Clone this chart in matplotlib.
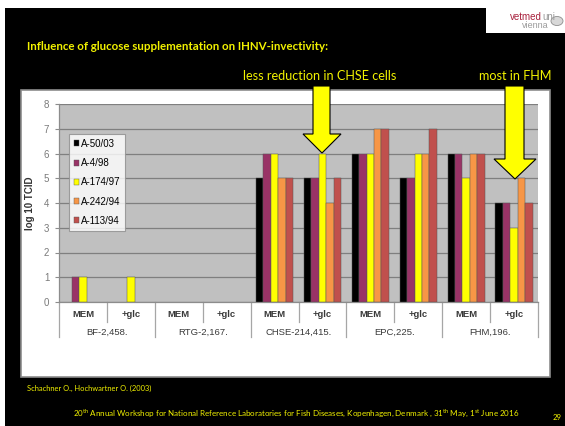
import matplotlib
matplotlib.use("Agg")
import matplotlib.pyplot as plt
import numpy as np
from matplotlib.patches import Rectangle, Polygon, Patch, Circle

W, H = 565, 426
YELLOW = "#F2F200"
GRID = "#7F7F7F"

strains = ["A-50/03", "A-4/98", "A-174/97", "A-242/94", "A-113/94"]
colors = ["#000000", "#993366", "#FFFF00", "#F79646", "#C0504D"]
media = ["MEM", "+glc"] * 5
cell_lines = ["BF-2,458.", "RTG-2,167.", "CHSE-214,415.", "EPC,225.", "FHM,196."]

# log10 TCID per strain, one value per (cell line, medium)
a50_03 = [0, 0, 0, 0, 5, 5, 6, 5, 6, 4]
a4_98 = [1, 0, 0, 0, 6, 5, 6, 5, 6, 4]
a174_97 = [1, 1, 0, 0, 6, 6, 6, 6, 5, 3]
a242_94 = [0, 0, 0, 0, 5, 4, 7, 6, 6, 5]
a113_94 = [0, 0, 0, 0, 5, 5, 7, 7, 6, 4]
series = [a50_03, a4_98, a174_97, a242_94, a113_94]


def fx(x):
    return x / W


def fy(y):
    return 1 - y / H


def px_poly(pts, **kw):
    return Polygon([(fx(x), fy(y)) for x, y in pts], closed=True,
                   transform=fig.transFigure, **kw)


fig = plt.figure(figsize=(W / 100, H / 100), dpi=100)
fig.patch.set_facecolor("white")

# slide background + white chart frame
fig.patches.append(Rectangle((fx(5), 0), 1 - fx(5), fy(8), transform=fig.transFigure,
                             facecolor="black", edgecolor="none", zorder=0))
fig.patches.append(Rectangle((fx(21), fy(377)), fx(550 - 21), (377 - 90) / H,
                             transform=fig.transFigure, facecolor="white",
                             edgecolor="#8C8C8C", lw=1.2, zorder=1))

# logo
fig.patches.append(Rectangle((fx(486), fy(33)), fx(565 - 486), 25 / H,
                             transform=fig.transFigure, facecolor="white",
                             edgecolor="none", zorder=1))
fig.text(fx(542), fy(17), "vetmed", ha="right", va="center", fontsize=7,
         color="#A8203C", family="Liberation Sans", zorder=2)
fig.text(fx(542), fy(17), "uni", ha="left", va="center", fontsize=7,
         color="#9A9A9A", family="Liberation Sans", zorder=2)
fig.text(fx(549), fy(26), "vienna", ha="right", va="center", fontsize=6.5,
         color="#9A9A9A", family="Liberation Sans", zorder=2)
fig.patches.append(Circle((fx(557), fy(21)), 6 / W, transform=fig.transFigure,
                          facecolor="#D8D8D8", edgecolor="#8C8C8C", lw=0.6, zorder=2))

# slide texts
fig.text(fx(27), fy(47), "Influence of glucose supplementation on IHNV-invectivity:",
         ha="left", va="center", fontsize=8.3, fontweight="bold", color=YELLOW,
         family="Lato")
fig.text(fx(320), fy(76), "less reduction in CHSE cells", ha="center", va="center",
         fontsize=9.1, color=YELLOW, family="Lato")
fig.text(fx(515), fy(76), "most in FHM", ha="center", va="center",
         fontsize=9.1, color=YELLOW, family="Lato")
fig.text(fx(27), fy(388), "Schachner O., Hochwartner O. (2003)", ha="left",
         va="center", fontsize=5.4, color=YELLOW, family="Lato")
fig.text(fx(296), fy(413),
         r"20$^{\mathregular{th}}$ Annual Workshop for National Reference Laboratories "
         r"for Fish Diseases, Kopenhagen, Denmark , 31$^{\mathregular{th}}$ May, "
         r"1$^{\mathregular{st}}$ June 2016",
         ha="center", va="center", fontsize=5.75, color=YELLOW, family="Lato")
fig.text(fx(557), fy(418), "29", ha="center", va="center", fontsize=5.6,
         color=YELLOW, family="Lato")

# chart
ax = fig.add_axes([fx(59), fy(302), fx(538 - 59), (302 - 104) / H], zorder=3)
ax.set_facecolor("#C0C0C0")
x = np.arange(len(media))
bw = 0.155
for i, (name, vals, c) in enumerate(zip(strains, series, colors)):
    vals = np.array(vals)
    keep = vals > 0
    ax.bar(x[keep] + (i - 2) * bw, vals[keep], width=bw, color=c, edgecolor="#555555",
           linewidth=0.35, zorder=3)

ax.set_xlim(-0.5, len(media) - 0.5)
ax.set_ylim(0, 8)
ax.set_yticks(range(0, 9))
ax.yaxis.grid(True, color=GRID, lw=0.9, zorder=1)
ax.set_axisbelow(True)
ax.tick_params(axis="y", labelsize=7, labelcolor="#7A7A7A", color="#8C8C8C",
               length=3, width=0.8, pad=4)
for lab in ax.get_yticklabels():
    lab.set_family("Liberation Sans")
ax.set_xticks([])
for s in ("top", "right"):
    ax.spines[s].set_visible(False)
for s in ("left", "bottom"):
    ax.spines[s].set_color("#8C8C8C")
    ax.spines[s].set_linewidth(0.9)
ax.set_ylabel("log 10 TCID", fontsize=7, fontweight="bold", family="Liberation Sans",
              color="#333333", labelpad=6)

# two-level category axis
tr = ax.get_xaxis_transform()
for i, m in enumerate(media):
    ax.text(i, -0.065, m, transform=tr, ha="center", va="center", fontsize=6.8,
            fontweight="bold", color="#3A3A3A", family="Liberation Sans")
for g, name in enumerate(cell_lines):
    ax.text(2 * g + 0.5, -0.155, name, transform=tr, ha="center", va="center",
            fontsize=6.8, color="#3A3A3A", family="Liberation Sans")
    ax.plot([2 * g + 0.5] * 2, [0, -0.10], transform=tr, color="#A6A6A6", lw=0.9,
            clip_on=False)
for b in np.arange(-0.5, len(media), 2):
    ax.plot([b, b], [0, -0.178], transform=tr, color="#A6A6A6", lw=0.9, clip_on=False)

handles = [Patch(facecolor=c, edgecolor="#555555", lw=0.3) for c in colors]
leg = fig.legend(handles, strains, loc="upper left",
                 bbox_to_anchor=(fx(69), fy(134)), bbox_transform=fig.transFigure,
                 prop={"family": "Liberation Sans", "size": 7},
                 frameon=True, fancybox=False, borderaxespad=0, borderpad=0.5,
                 handlelength=0.55, handleheight=0.55, handletextpad=0.15,
                 labelspacing=0.95)
leg.get_frame().set_edgecolor("#8C8C8C")
leg.get_frame().set_linewidth(0.8)
leg.set_zorder(5)

# yellow callout arrows
arrow_kw = dict(facecolor="#FFFF00", edgecolor="black", lw=0.8, zorder=6)
fig.patches.append(px_poly([(313, 86), (330, 86), (330, 134), (341, 134), (322, 153),
                            (303, 134), (313, 134)], **arrow_kw))
fig.patches.append(px_poly([(505, 86), (524, 86), (524, 159), (536, 159), (515, 179),
                            (494, 159), (505, 159)], **arrow_kw))

fig.savefig("out.png", dpi=100, facecolor="white")
